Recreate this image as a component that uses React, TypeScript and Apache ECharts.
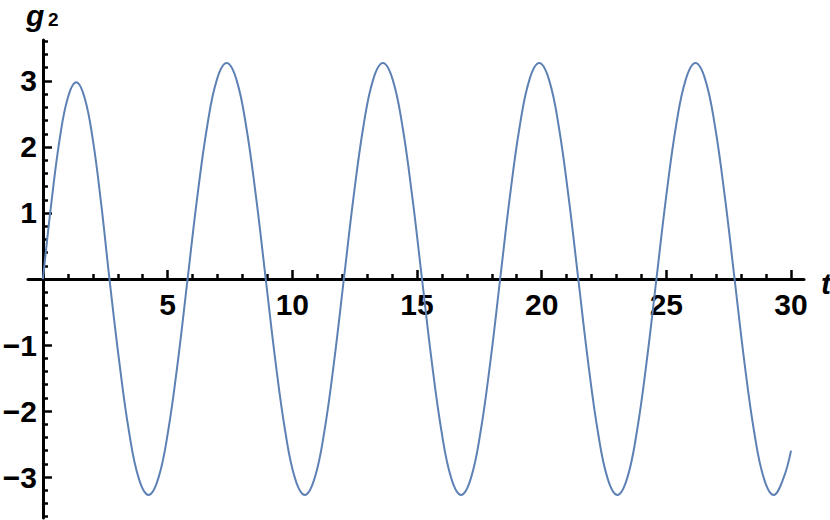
import React, { useEffect, useRef } from "react";
import * as echarts from "echarts";

const tValues = [
  0, 0.333, 0.667, 1.0, 1.334, 1.667, 2.0, 2.334,
  2.667, 3.059, 3.45, 3.842, 4.234, 4.625, 5.017, 5.409,
  5.8, 6.192, 6.584, 6.975, 7.367, 7.759, 8.15, 8.542,
  8.934, 9.325, 9.717, 10.109, 10.5, 10.892, 11.284, 11.675,
  12.067, 12.459, 12.85, 13.242, 13.634, 14.025, 14.418, 14.809,
  15.201, 15.592, 15.984, 16.376, 16.768, 17.159, 17.551, 17.943,
  18.335, 18.726, 19.118, 19.51, 19.901, 20.293, 20.685, 21.076,
  21.468, 21.86, 22.252, 22.643, 23.035, 23.427, 23.818, 24.21,
  24.602, 24.994, 25.385, 25.777, 26.169, 26.56, 26.952, 27.344,
  27.736, 28.127, 28.519, 28.911, 29.303, 29.694, 30,
];
const gValues = [
  0, 1.14, 2.11, 2.75, 2.98, 2.75, 2.11, 1.14,
  0, -1.25, -2.31, -3.02, -3.27, -3.02, -2.31, -1.25,
  0, 1.25, 2.31, 3.02, 3.27, 3.02, 2.31, 1.25,
  0, -1.25, -2.31, -3.02, -3.27, -3.02, -2.31, -1.25,
  0, 1.25, 2.31, 3.02, 3.27, 3.02, 2.31, 1.25,
  0, -1.25, -2.31, -3.02, -3.27, -3.02, -2.31, -1.25,
  0, 1.25, 2.31, 3.02, 3.27, 3.02, 2.31, 1.25,
  0, -1.25, -2.31, -3.02, -3.27, -3.02, -2.31, -1.25,
  0, 1.25, 2.31, 3.02, 3.27, 3.02, 2.31, 1.25,
  0, -1.25, -2.31, -3.02, -3.27, -3.02, -2.6,
];

const xMajorTicks = [5, 10, 15, 20, 25, 30];
const xMinorTicks = [1, 2, 3, 4, 6, 7, 8, 9, 11, 12, 13, 14, 16, 17, 18, 19, 21, 22, 23, 24, 26, 27, 28, 29];
const yMajorTicks = [-3, -2, -1, 1, 2, 3];
const yMinorTicks = [
  -3.6, -3.4, -3.2, -2.8, -2.6, -2.4, -2.2, -1.8, -1.6, -1.4, -1.2, -0.8, -0.6, -0.4, -0.2,
  0.2, 0.4, 0.6, 0.8, 1.2, 1.4, 1.6, 1.8, 2.2, 2.4, 2.6, 2.8, 3.2, 3.4, 3.6,
];

const xTitle = "t";
const yTitleMain = "g";
const yTitleSub = "2";

const FONT = "'Liberation Sans', Arial, sans-serif";
const LINE_COLOR = "#5E81B5";

export default function App() {
  const ref = useRef<HTMLDivElement>(null);
  useEffect(() => {
    document.body.style.margin = "0";
    if (!ref.current) return;
    const chart = echarts.init(ref.current, null, { renderer: "svg" });
    const X_MIN = -0.6;
    const X_MAX = 30.52;
    const Y_MIN = -3.62;
    const Y_MAX = 3.62;
    const GRID = { left: 28, top: 40, width: 776, height: 478 };
    // place the axes through the origin using offsets from the grid edges
    const zeroX = GRID.left + ((0 - X_MIN) / (X_MAX - X_MIN)) * GRID.width;
    const zeroY = GRID.top + ((Y_MAX - 0) / (Y_MAX - Y_MIN)) * GRID.height;
    const xOffset = -(GRID.top + GRID.height - zeroY);
    const yOffset = -(zeroX - GRID.left);

    const axisLine = { onZero: false, lineStyle: { color: "#000", width: 3 } };
    const minus = (v: number) => (v < 0 ? "\u2212" + Math.abs(v) : String(v));
    const labelStyle = {
      fontFamily: FONT,
      fontWeight: "bold" as const,
      fontSize: 30,
      color: "#000",
    };
    chart.setOption({
      animation: false,
      grid: { ...GRID, containLabel: false, outerBoundsMode: "none" },
      xAxis: [
        {
          type: "value",
          min: X_MIN,
          max: X_MAX,
          position: "bottom",
          offset: xOffset,
          axisLine,
          splitLine: { show: false },
          axisTick: {
            show: true,
            inside: true,
            length: 9,
            customValues: xMajorTicks,
            lineStyle: { color: "#000", width: 2.5 },
          },
          axisLabel: {
            show: true,
            customValues: xMajorTicks,
            margin: 10,
            formatter: minus,
            ...labelStyle,
          },
        },
        {
          type: "value",
          min: X_MIN,
          max: X_MAX,
          position: "bottom",
          offset: xOffset,
          axisLine: { ...axisLine, show: false },
          splitLine: { show: false },
          axisTick: {
            show: true,
            inside: true,
            length: 5,
            customValues: xMinorTicks,
            lineStyle: { color: "#000", width: 2.5 },
          },
          axisLabel: { show: false },
        },
      ],
      yAxis: [
        {
          type: "value",
          min: Y_MIN,
          max: Y_MAX,
          position: "left",
          offset: yOffset,
          axisLine,
          splitLine: { show: false },
          axisTick: {
            show: true,
            inside: true,
            length: 9,
            customValues: yMajorTicks,
            lineStyle: { color: "#000", width: 2.5 },
          },
          axisLabel: {
            show: true,
            customValues: yMajorTicks,
            margin: 6,
            formatter: minus,
            ...labelStyle,
          },
        },
        {
          type: "value",
          min: Y_MIN,
          max: Y_MAX,
          position: "left",
          offset: yOffset,
          axisLine: { ...axisLine, show: false },
          splitLine: { show: false },
          axisTick: {
            show: true,
            inside: true,
            length: 5,
            customValues: yMinorTicks,
            lineStyle: { color: "#000", width: 2.5 },
          },
          axisLabel: { show: false },
        },
      ],
      series: [
        {
          type: "line",
          xAxisIndex: 0,
          yAxisIndex: 0,
          data: tValues.map((t, i) => [t, gValues[i]]),
          showSymbol: false,
          smooth: 0.4,
          lineStyle: { color: LINE_COLOR, width: 2 },
          silent: true,
        },
      ],
      graphic: [
        {
          type: "text",
          left: 26,
          top: 0,
          style: {
            text: yTitleMain,
            font: `italic bold 30px ${FONT}`,
            lineHeight: 14,
            fill: "#000",
          },
        },
        {
          type: "text",
          left: 48,
          top: 10,
          style: {
            text: yTitleSub,
            font: `bold 19px ${FONT}`,
            fill: "#000",
          },
        },
        {
          type: "text",
          left: 821,
          top: 268,
          style: {
            text: xTitle,
            font: `italic bold 30px ${FONT}`,
            fill: "#000",
          },
        },
      ],
    });
    return () => chart.dispose();
  }, []);
  return <div ref={ref} style={{ width: 830, height: 520 }} />;
}
